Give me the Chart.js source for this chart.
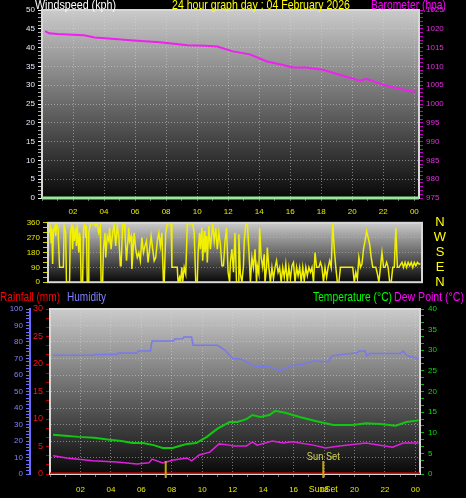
<!DOCTYPE html>
<html>
<head>
<meta charset="utf-8">
<script src="https://cdn.jsdelivr.net/npm/chart.js@4.4.1/dist/chart.umd.min.js"></script>
<style>
  html, body { margin: 0; padding: 0; background: #000; }
  #wrap { position: relative; width: 466px; height: 498px; overflow: hidden; background: #000; }
  canvas { position: absolute; left: 0; }
</style>
</head>
<body>
<div id="wrap">
  <canvas id="c1" width="466" height="215" style="top:0px"></canvas>
  <canvas id="c2" width="466" height="75" style="top:215px"></canvas>
  <canvas id="c3" width="466" height="208" style="top:290px"></canvas>
</div>
<script>
// Barómetro (hpa) ao longo do dia
const baroHours = [0.2, 0.45, 1.0, 1.7, 2.7, 3.4, 4.9, 5.9, 7.6, 9.4, 10.5, 11.3, 12.3, 13.4, 14.5, 15.4, 16.2, 17.0, 18.1, 19.4, 20.5, 20.9, 22.0, 23.1, 24.1];
const baroValues = [1019.4, 1018.8, 1018.6, 1018.5, 1018.3, 1017.7, 1017.2, 1016.9, 1016.4, 1015.6, 1015.5, 1015.3, 1014.0, 1013.2, 1011.3, 1010.5, 1009.7, 1009.7, 1009.1, 1007.5, 1006.2, 1006.7, 1005.1, 1004.0, 1003.2];

// Vento (kph) - sem vento o dia todo
const windSpeedHours = [0, 24.3];
const windSpeedValues = [0, 0];

// Direcção do vento (graus)
const windDirHours = [
  0.1, 0.15, 0.2, 0.25, 0.3, 0.35, 0.45, 0.5, 0.55, 0.65, 0.75, 0.85,
  1.0, 1.05, 1.15, 1.2, 1.3, 1.4, 1.45, 1.55, 1.6, 1.65, 1.7, 1.8, 1.85, 1.9,
  2.0, 2.05, 2.1, 2.15, 2.25, 2.3, 2.4, 2.45, 2.5, 2.55, 2.6, 2.65, 2.75, 2.9,
  3.0, 3.1, 3.2, 3.3, 3.4, 3.45, 3.55, 3.6, 3.7, 3.75, 3.85, 3.95,
  4.0, 4.1, 4.2, 4.3, 4.4, 4.5, 4.6, 4.7, 4.75, 4.85, 4.95,
  5.0, 5.1, 5.15, 5.25, 5.3, 5.4, 5.45, 5.5, 5.6, 5.7, 5.8, 5.9,
  6.0, 6.1, 6.2, 6.3, 6.4, 6.5, 6.6, 6.7, 6.8, 6.9,
  7.0, 7.1, 7.2, 7.3, 7.4, 7.5, 7.55, 7.65, 7.75, 7.9,
  8.0, 8.05, 8.2, 8.4, 8.45, 8.55, 8.6, 8.7, 8.75, 8.85, 8.95,
  9.05, 9.2, 9.4, 9.5, 9.6, 9.7, 9.75, 9.85, 9.9,
  10.0, 10.05, 10.15, 10.2, 10.3, 10.35, 10.45, 10.55, 10.65, 10.7, 10.8, 10.9,
  11.0, 11.1, 11.2, 11.3, 11.4, 11.5, 11.6, 11.7, 11.8, 11.85, 11.95,
  12.05, 12.15, 12.25, 12.35, 12.4, 12.5, 12.6, 12.7, 12.75, 12.85, 12.95,
  13.05, 13.15, 13.25, 13.35, 13.45, 13.55, 13.6, 13.7, 13.75, 13.85, 13.95,
  14.05, 14.1, 14.2, 14.25, 14.35, 14.45, 14.55, 14.65, 14.75, 14.85, 14.95,
  15.05, 15.15, 15.25, 15.35, 15.45, 15.55, 15.65, 15.75, 15.85, 15.95,
  16.05, 16.15, 16.25, 16.35, 16.45, 16.55, 16.65, 16.75, 16.85, 16.95,
  17.05, 17.15, 17.25, 17.35, 17.45, 17.6, 17.7, 17.8, 17.9,
  18.0, 18.1, 18.2, 18.3, 18.4, 18.5, 18.6, 18.7, 18.8, 18.9,
  19.0, 19.2, 19.5, 19.8, 19.9,
  20.0, 20.1, 20.2, 20.3, 20.4, 20.5, 20.6, 20.7, 20.8, 20.9,
  21.0, 21.1, 21.3, 21.4, 21.5, 21.6, 21.7, 21.8, 21.9,
  22.0, 22.1, 22.2, 22.3, 22.4, 22.5, 22.6, 22.7, 22.8,
  23.0, 23.1, 23.2, 23.3, 23.4, 23.5, 23.6, 23.7, 23.8, 23.9, 24.0, 24.1, 24.2
];
const windDirValues = [
  300, 350, 240, 330, 110, 310, 340, 280, 350, 330, 90, 90,
  90, 340, 300, 0, 0, 0, 300, 350, 200, 340, 250, 330, 220, 350,
  180, 300, 260, 0, 0, 320, 360, 270, 340, 0, 0, 300, 355, 355,
  355, 340, 355, 300, 340, 0, 0, 200, 300, 150, 280, 250,
  330, 200, 300, 350, 220, 340, 280, 100, 100, 350, 360,
  300, 130, 200, 330, 250, 280, 80, 150, 300, 200, 150, 180,
  130, 270, 180, 220, 250, 120, 200, 280, 200, 130,
  150, 250, 300, 220, 300, 0, 0, 300, 355, 355,
  355, 90, 90, 90, 0, 30, 0, 90, 0, 90, 50,
  355, 355, 355, 300, 0, 0, 180, 300, 200,
  330, 130, 310, 180, 280, 120, 340, 200, 300, 360, 250, 330,
  200, 300, 230, 100, 100, 250, 330, 60, 0, 120, 200,
  60, 300, 0, 0, 290, 50, 0, 100, 250, 350, 360,
  200, 0, 150, 90, 200, 0, 100, 50, 330, 150, 90,
  170, 0, 90, 210, 90, 0, 90, 20, 90, 130, 60,
  90, 0, 90, 30, 110, 0, 90, 20, 100, 120,
  0, 90, 40, 90, 0, 90, 10, 90, 40, 90,
  60, 90, 0, 180, 90, 90, 120, 90, 0,
  90, 30, 90, 130, 90, 360, 200, 90, 0, 0,
  90, 90, 90, 90, 0,
  60, 20, 150, 90, 110, 200, 250, 310, 270, 230,
  150, 90, 90, 50, 0, 90, 180, 90, 90,
  120, 90, 0, 0, 90, 90, 330, 90, 90,
  120, 90, 120, 90, 120, 100, 120, 90, 120, 100, 120, 110, 110
];

// Humidade (%)
const humHours = [0.2, 2.9, 3.0, 4.4, 4.5, 5.7, 5.8, 6.6, 6.7, 8.1, 8.2, 8.7, 8.8, 9.3, 9.4, 11.0, 11.5, 12.0, 12.6, 13.3, 13.6, 14.2, 14.8, 15.1, 15.8, 16.6, 17.3, 18.3, 18.5, 19.2, 20.2, 20.3, 20.7, 20.8, 21.0, 23.0, 23.2, 23.4, 24.2];
const humValues = [72, 72, 72.5, 72.5, 73.3, 73.3, 74.5, 74.5, 80.6, 80.6, 81.8, 82, 83, 83, 78, 78, 75, 70, 69.5, 66, 65, 65.5, 64, 62.4, 65.5, 66.5, 68.5, 68, 71.5, 72.5, 73.5, 74.5, 74.5, 71.5, 73, 73, 74.5, 72, 69.7];

// Temperatura (°C)
const tempHours = [0.2, 1.0, 1.9, 2.9, 3.9, 4.7, 5.4, 6.1, 6.8, 7.4, 8.05, 8.5, 9.0, 9.6, 10.3, 11.0, 11.8, 12.3, 12.9, 13.3, 13.8, 14.4, 14.8, 15.5, 16.4, 17.5, 18.6, 19.9, 20.75, 21.7, 22.7, 23.4, 24.2];
const tempValues = [9.5, 9.3, 9.0, 8.8, 8.3, 8.0, 7.5, 7.5, 7.0, 6.3, 6.3, 6.8, 7.3, 7.5, 9.0, 11.0, 12.6, 12.6, 13.3, 14.3, 13.8, 14.3, 15.3, 14.8, 13.8, 12.8, 11.9, 11.9, 12.3, 12.1, 11.7, 12.6, 13.0];

// Ponto de orvalho (°C)
const dewHours = [0.2, 1.1, 2.8, 4.4, 5.7, 6.5, 6.7, 7.4, 8.1, 9.0, 9.3, 9.8, 10.5, 11.1, 11.8, 12.0, 12.9, 13.3, 13.6, 14.6, 15.3, 15.9, 17.3, 18.1, 19.0, 20.75, 22.5, 23.2, 24.2];
const dewValues = [4.4, 3.9, 3.2, 2.9, 2.4, 2.7, 3.6, 2.7, 3.4, 3.9, 3.2, 4.6, 5.3, 7.3, 7.0, 6.8, 6.8, 7.8, 7.0, 8.0, 7.5, 7.8, 7.0, 6.3, 6.8, 7.5, 6.5, 7.5, 7.5];

// Chuva (mm)
const rainHours = [0, 24.3];
const rainValues = [0, 0];

// Nascer e pôr do sol (horas)
const sunRise = 7.6;
const sunSet = 17.95;

const dirLetters = ['N', 'W', 'S', 'E', 'N'];
const dirLevels = [360, 270, 180, 90, 0];

Chart.defaults.font.family = '"Liberation Sans", Arial, sans-serif';
Chart.defaults.font.size = 8;

function pontos(xs, ys) {
  return xs.map((x, i) => ({ x: x, y: ys[i] }));
}

function texto(ctx, str, x, y, cor, tam, maxW, align) {
  ctx.save();
  ctx.font = tam + 'px "Liberation Sans", Arial, sans-serif';
  ctx.fillStyle = cor;
  ctx.textAlign = align || 'left';
  ctx.textBaseline = 'alphabetic';
  if (maxW) ctx.fillText(str, x, y, maxW);
  else ctx.fillText(str, x, y);
  ctx.restore();
}

const transparente = 'rgba(0,0,0,0)';
const pontilhado = 'rgba(215,215,215,0.5)';

// Fundo em degradê e moldura da área do gráfico
const fundo = {
  id: 'fundo',
  beforeDraw(chart) {
    const { ctx, chartArea: a } = chart;
    const g = ctx.createLinearGradient(0, a.top, 0, a.bottom);
    g.addColorStop(0, '#cbcbcb');
    g.addColorStop(1, '#080808');
    ctx.save();
    ctx.fillStyle = g;
    ctx.fillRect(a.left, a.top, a.width, a.height);
    ctx.restore();
  },
  beforeDatasetsDraw(chart) {
    const { ctx, chartArea: a } = chart;
    ctx.save();
    ctx.strokeStyle = '#d8d8d8';
    ctx.lineWidth = 2;
    ctx.strokeRect(a.left, a.top, a.width, a.height);
    ctx.restore();
  }
};

function eixoHoras(altura, pad) {
  return {
    type: 'linear',
    min: 0,
    max: 24.3,
    afterFit: s => { s.height = altura; },
    ticks: {
      stepSize: 1,
      autoSkip: false,
      maxRotation: 0,
      includeBounds: false,
      color: '#e8e800',
      padding: pad,
      callback: v => (v % 2 === 0 && v > 0) ? String(v % 24).padStart(2, '0') : ''
    },
    grid: {
      color: c => (c.tick && c.tick.value % 2 === 0 && c.tick.value > 0) ? pontilhado : transparente,
      tickColor: '#707070',
      tickLength: 3,
      tickBorderDash: []
    },
    border: { display: false, dash: [1, 2] }
  };
}

function linha(dados, cor, largura, eixo) {
  return {
    data: dados,
    borderColor: cor,
    borderWidth: largura,
    pointRadius: 0,
    tension: 0,
    fill: false,
    yAxisID: eixo
  };
}

const comum = {
  responsive: false,
  animation: false,
  plugins: { legend: { display: false }, tooltip: { enabled: false } }
};

// Painel 1: vento e barómetro
const vento = linha(pontos(windSpeedHours, windSpeedValues), '#98e898', 3, 'yV');
vento.clip = 4;

new Chart(document.getElementById('c1'), {
  type: 'line',
  data: {
    datasets: [
      vento,
      linha(pontos(baroHours, baroValues), '#f020f0', 2, 'yB')
    ]
  },
  options: {
    ...comum,
    layout: { padding: { top: 10, left: 0, right: 0, bottom: 0 } },
    scales: {
      x: eixoHoras(17, 6),
      yV: {
        position: 'left',
        min: 0,
        max: 50,
        afterFit: s => { s.width = 42; },
        ticks: {
          stepSize: 1,
          autoSkip: false,
          color: '#e4ecff',
          padding: 3,
          callback: v => v % 5 === 0 ? v : ''
        },
        grid: {
          color: c => c.tick.value % 5 === 0 ? pontilhado : transparente,
          tickColor: c => c.tick.value % 5 === 0 ? '#ffffff' : '#a8a8a8',
          tickLength: 4,
          tickBorderDash: []
        },
        border: { display: false, dash: [1, 2] }
      },
      yB: {
        position: 'right',
        min: 975,
        max: 1025,
        afterFit: s => { s.width = 47; },
        ticks: {
          stepSize: 1,
          autoSkip: false,
          color: '#e030e0',
          padding: 3,
          callback: v => v % 5 === 0 ? v : ''
        },
        grid: { drawOnChartArea: false, tickColor: '#c000c0', tickLength: 4 },
        border: { display: false }
      }
    }
  },
  plugins: [fundo, {
    id: 'titulos1',
    afterDraw(chart) {
      const ctx = chart.ctx;
      texto(ctx, 'Windspeed (kph)', 35, 9, '#ffffff', 13, 81);
      texto(ctx, '24 hour graph day : 04 February 2026', 172, 9, '#ffff00', 13, 178);
      texto(ctx, 'Barometer (hpa)', 371, 9, '#ff00ff', 13, 75);
    }
  }]
});

// Painel 2: direcção do vento
new Chart(document.getElementById('c2'), {
  type: 'line',
  data: {
    datasets: [linha(pontos(windDirHours, windDirValues), '#f0f000', 1.5, 'y')]
  },
  options: {
    ...comum,
    layout: { padding: { top: 6, left: 0, right: 44, bottom: 7 } },
    scales: {
      x: { type: 'linear', min: 0, max: 24.3, display: false },
      y: {
        min: 0,
        max: 360,
        afterFit: s => { s.width = 48; },
        ticks: {
          stepSize: 30,
          autoSkip: false,
          color: '#e8e800',
          padding: 3,
          callback: v => v % 90 === 0 ? v : ''
        },
        grid: {
          color: c => (c.tick.value % 90 === 0 && c.tick.value > 0 && c.tick.value < 360) ? 'rgba(200,200,200,0.45)' : transparente,
          tickColor: '#d0d000',
          tickLength: 5,
          tickBorderDash: []
        },
        border: { display: false, dash: [1, 2] }
      }
    }
  },
  plugins: [fundo, {
    id: 'rosa',
    afterDraw(chart) {
      const ctx = chart.ctx;
      const ys = chart.scales.y;
      ctx.save();
      ctx.font = '13px "Liberation Sans", Arial, sans-serif';
      ctx.fillStyle = '#ffff00';
      ctx.textAlign = 'center';
      ctx.textBaseline = 'middle';
      dirLetters.forEach((l, i) => ctx.fillText(l, 440, ys.getPixelForValue(dirLevels[i])));
      ctx.restore();
    }
  }]
});

// Painel 3: chuva, humidade, temperatura e ponto de orvalho
const multiplo5 = v => Math.abs(v - Math.round(v / 5) * 5) < 0.01;

new Chart(document.getElementById('c3'), {
  type: 'line',
  data: {
    datasets: [
      linha(pontos(humHours, humValues), '#7878f0', 1.5, 'yH'),
      linha(pontos(tempHours, tempValues), '#10c810', 2, 'yT'),
      linha(pontos(dewHours, dewValues), '#e020e0', 1.5, 'yT'),
      linha(pontos(rainHours, rainValues), '#ff0000', 3, 'yR')
    ]
  },
  options: {
    ...comum,
    layout: { padding: { top: 19, left: 0, right: 0, bottom: 0 } },
    scales: {
      x: eixoHoras(24, 8),
      yR: {
        position: 'left',
        weight: 0,
        min: 0,
        max: 30,
        afterFit: s => { s.width = 20; },
        ticks: {
          stepSize: 5 / 3,
          autoSkip: false,
          color: '#ff1010',
          padding: 3,
          font: { size: 9 },
          callback: v => multiplo5(v) ? Math.round(v) : ''
        },
        grid: { drawOnChartArea: false, tickColor: '#c00000', tickLength: 4 },
        border: { display: false }
      },
      yH: {
        position: 'left',
        weight: 1,
        min: 0,
        max: 100,
        afterFit: s => { s.width = 30; },
        ticks: {
          stepSize: 2,
          autoSkip: false,
          color: '#8080ff',
          padding: 3,
          callback: v => v % 10 === 0 ? v : ''
        },
        grid: {
          color: c => (c.tick.value % 10 === 0 && c.tick.value > 0 && c.tick.value < 100) ? pontilhado : transparente,
          tickColor: '#6c6cff',
          tickLength: 4,
          tickBorderDash: []
        },
        border: { display: true, color: '#6c6cff', width: 2, dash: [1, 2] }
      },
      yT: {
        position: 'right',
        min: 0,
        max: 40,
        afterFit: s => { s.width = 46; },
        ticks: {
          stepSize: 5 / 3,
          autoSkip: false,
          color: '#00e000',
          padding: 4,
          callback: v => multiplo5(v) ? Math.round(v) : ''
        },
        grid: { drawOnChartArea: false, tickColor: '#00c000', tickLength: 4 },
        border: { display: false }
      }
    }
  },
  plugins: [fundo, {
    id: 'titulos3',
    afterDraw(chart) {
      const ctx = chart.ctx;
      const a = chart.chartArea;
      const xs = chart.scales.x;
      texto(ctx, 'Rainfall (mm)', 0, 10.5, '#ff0000', 13, 60);
      texto(ctx, 'Humidity', 67, 10.5, '#8080ff', 13, 39);
      texto(ctx, 'Temperature (°C)', 313, 10.5, '#00ff00', 13, 79);
      texto(ctx, 'Dew Point (°C)', 394, 10.5, '#ff00ff', 13, 70);

      // marcadores do sol
      ctx.save();
      ctx.strokeStyle = '#c8a800';
      ctx.lineWidth = 2;
      [sunRise, sunSet].forEach(t => {
        const px = xs.getPixelForValue(t);
        ctx.beginPath();
        ctx.moveTo(px, a.bottom - 13);
        ctx.lineTo(px, a.bottom + 4);
        ctx.stroke();
      });
      ctx.restore();
      const ps = xs.getPixelForValue(sunSet);
      texto(ctx, 'Sun Set', ps, a.bottom - 14, '#d4d450', 10, 33, 'center');
      texto(ctx, 'SunSet', ps, a.bottom + 18, '#e8e800', 9, 29, 'center');
    }
  }]
});
</script>
</body>
</html>
